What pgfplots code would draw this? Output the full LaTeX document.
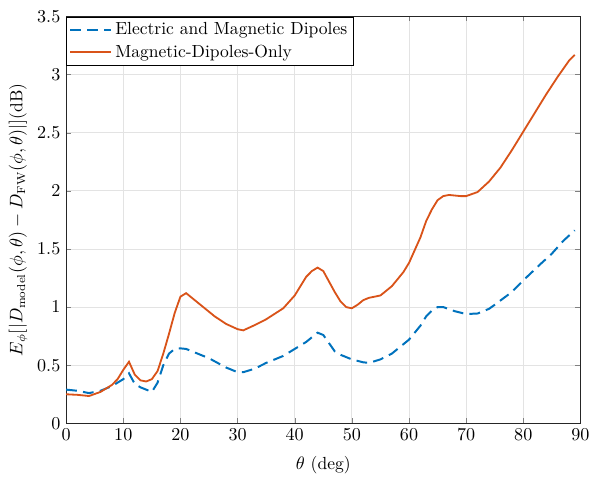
\documentclass[border=0pt]{standalone}
\usepackage{pgfplots}
\pgfplotsset{compat=1.18}
\definecolor{mblue}{RGB}{0,114,189}
\definecolor{morange}{RGB}{217,83,25}
\begin{document}
\begin{tikzpicture}[font=\fontsize{10.6}{12.5}\selectfont]
\begin{axis}[
  width=311pt, height=246pt, scale only axis,
  xmin=0, xmax=90, ymin=0, ymax=3.5,
  xtick={0,10,...,90}, ytick={0,0.5,...,3.5},
  tick align=inside, axis line style={black!85},
  major tick length=3pt,
  grid=major, grid style={gray!22, line width=0.5pt},
  tick label style={font=\fontsize{10.6}{12.5}\selectfont},
  label style={font=\fontsize{10.6}{12.5}\selectfont},
  xlabel={$\theta$ (deg)},
  xlabel style={yshift=-2.5pt},
  ylabel={$E_{\phi}[|D_{\mathrm{model}}(\phi,\theta)-D_{\mathrm{FW}}(\phi,\theta)|]$(dB)},
  ylabel style={yshift=-1pt},
  legend cell align=left,
  legend style={at={(rel axis cs:0,1)}, anchor=north west, draw=black, line width=0.5pt,
    inner sep=1.5pt, row sep=0.5pt, font=\fontsize{10.6}{12.5}\selectfont},
  legend image post style={xscale=1.45},
]
\addplot[mblue, line width=1.2pt, dash pattern=on 6.5pt off 3.8pt] coordinates {
 (0,0.29) (2,0.28) (4,0.26) (6,0.28) (8,0.32) (10,0.38) (11,0.43) (12,0.34) (13,0.31)
 (14,0.29) (15,0.27) (16,0.35) (17,0.50) (18,0.60) (19,0.64) (20,0.645) (21,0.64)
 (23,0.60) (25,0.56) (28,0.48) (30,0.44) (31,0.44) (33,0.47) (35,0.52) (38,0.58)
 (40,0.64) (42,0.70) (43,0.74) (44,0.78) (45,0.76) (46,0.69) (47,0.62) (48,0.59)
 (50,0.55) (52,0.525) (53,0.52) (55,0.55) (57,0.60) (60,0.72) (62,0.84) (63,0.92)
 (64,0.97) (65,1.0) (66,1.0) (68,0.965) (70,0.94) (72,0.945) (74,0.985) (75,1.02)
 (78,1.13) (80,1.23) (83,1.37) (85,1.46) (87,1.57) (89,1.66)
};
\addlegendentry{Electric and Magnetic Dipoles}
\addplot[morange, line width=1.1pt] coordinates {
 (0,0.25) (2,0.245) (4,0.235) (6,0.27) (8,0.33) (9,0.38) (10,0.46) (11,0.53) (12,0.42)
 (13,0.37) (14,0.36) (15,0.38) (16,0.45) (17,0.60) (18,0.77) (19,0.95) (20,1.09)
 (21,1.12) (22,1.08) (24,1.00) (26,0.92) (28,0.855) (30,0.81) (31,0.80) (33,0.845)
 (35,0.895) (38,0.99) (40,1.10) (41,1.18) (42,1.26) (43,1.31) (44,1.34) (45,1.31)
 (46,1.22) (47,1.13) (48,1.05) (49,1.00) (50,0.99) (51,1.02) (52,1.06) (53,1.08)
 (55,1.10) (57,1.18) (59,1.30) (60,1.38) (61,1.49) (62,1.60) (63,1.74) (64,1.84)
 (65,1.92) (66,1.955) (67,1.965) (69,1.955) (70,1.955) (72,1.99) (74,2.08) (76,2.20)
 (78,2.35) (80,2.51) (82,2.67) (84,2.83) (86,2.98) (88,3.12) (89,3.17)
};
\addlegendentry{Magnetic-Dipoles-Only}
\end{axis}
\path ([shift={(-40pt,10pt)}]current axis.north west) ([shift={(7pt,-29pt)}]current axis.south east);
\end{tikzpicture}
\end{document}
